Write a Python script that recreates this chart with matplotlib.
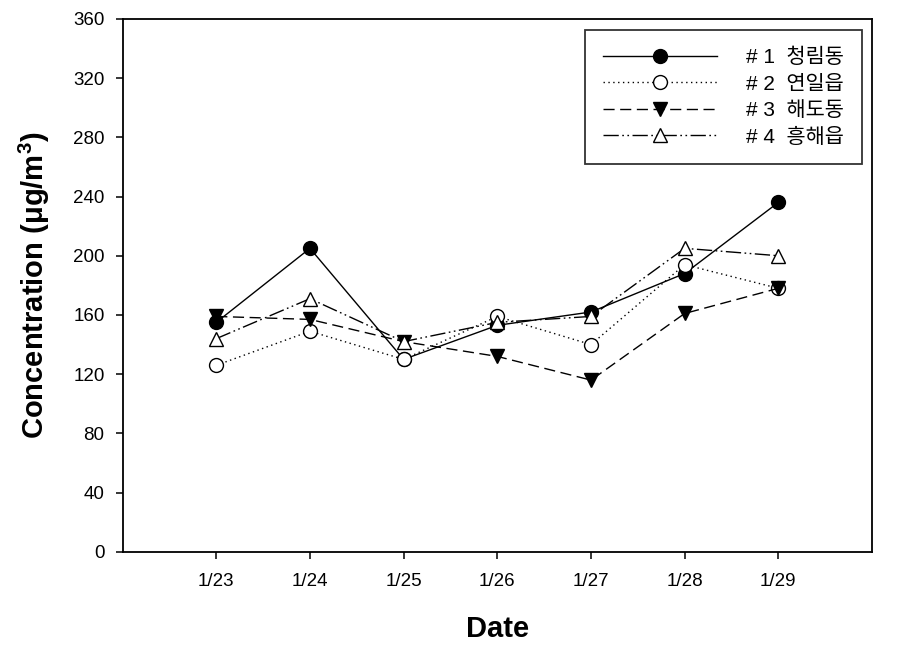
import matplotlib
matplotlib.use('Agg')
import matplotlib.pyplot as plt

dates = ['1/23', '1/24', '1/25', '1/26', '1/27', '1/28', '1/29']
site1 = [155, 205, 130, 153, 162, 188, 236]   # 청림동
site2 = [126, 149, 130, 159, 140, 194, 178]   # 연일읍
site3 = [159, 157, 142, 132, 116, 161, 178]   # 해도동
site4 = [144, 171, 142, 155, 159, 205, 200]   # 흥해읍
labels = ['# 1  청림동', '# 2  연일읍', '# 3  해도동', '# 4  흥해읍']

plt.rcParams['font.family'] = ['Liberation Sans', 'Noto Sans CJK KR']
plt.rcParams['mathtext.fontset'] = 'custom'
plt.rcParams['mathtext.rm'] = 'Liberation Sans:bold'
plt.rcParams['mathtext.bf'] = 'Liberation Sans:bold'
plt.rcParams['mathtext.default'] = 'bf'

fig = plt.figure(figsize=(9.15, 6.5), dpi=100)
ax = fig.add_axes([0.134, 0.151, 0.819, 0.820])

x = list(range(len(dates)))
lw = 1.0
ax.plot(x, site1, color='black', lw=lw, ls='-', marker='o', ms=10,
        mfc='black', mec='black', label=labels[0])
ax.plot(x, site2, color='black', lw=lw, ls=(0, (1, 2.5)), marker='o', ms=10,
        mfc='white', mec='black', label=labels[1])
ax.plot(x, site3, color='black', lw=lw, ls=(0, (8, 4)), marker='v', ms=10,
        mfc='black', mec='black', label=labels[2])
ax.plot(x, site4, color='black', lw=lw, ls=(0, (11, 2.5, 1.2, 2.5, 1.2, 2.5)),
        marker='^', ms=9.5, mfc='white', mec='black', label=labels[3])

ax.set_xlim(-1, 7)
ax.set_ylim(0, 360)
ax.set_xticks(x)
ax.set_xticklabels(dates)
ax.set_yticks(range(0, 361, 40))
ax.tick_params(axis='both', direction='out', length=5, width=1.1,
               labelsize=13.5, top=False, right=False)
ax.tick_params(axis='x', pad=10)
ax.tick_params(axis='y', pad=8)
for s in ax.spines.values():
    s.set_linewidth(1.3)

ax.set_xlabel('Date', fontsize=21, fontweight='bold')
ax.set_ylabel('Concentration (μg/m$^{3}$)', fontsize=21, fontweight='bold')
ax.xaxis.set_label_coords(0.5, -0.118)
ax.yaxis.set_label_coords(-0.094, 0.5)

leg = ax.legend(loc='upper right', bbox_to_anchor=(0.9866, 0.979),
                handlelength=5.5, numpoints=1, fontsize=15,
                frameon=True, fancybox=False, borderpad=0.85,
                labelspacing=0.36, handletextpad=1.4, borderaxespad=0)
leg.get_frame().set_edgecolor('black')
leg.get_frame().set_linewidth(1.3)

fig.savefig('out.png', dpi=100)
